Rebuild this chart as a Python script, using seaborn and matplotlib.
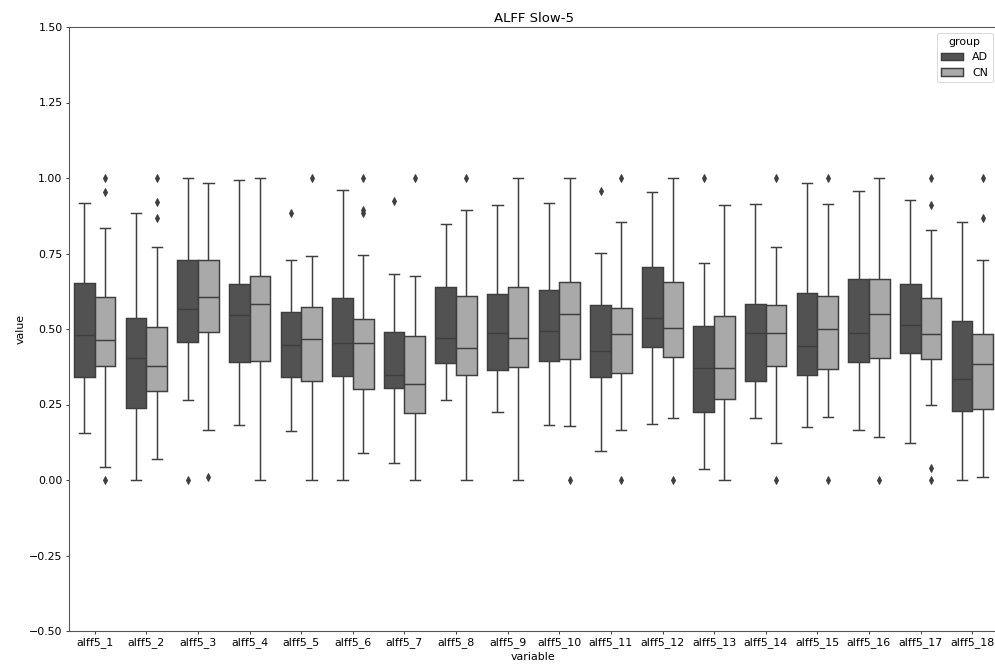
import matplotlib
matplotlib.use("Agg")
import matplotlib.pyplot as plt
import numpy as np
import pandas as pd
import seaborn as sns

variables = ["alff5_%d" % i for i in range(1, 19)]
groups = ["AD", "CN"]

# box summaries (whisker low, q1, median, q3, whisker high, fliers)
ad_lo = [.155, .0, .264, .183, .161, .0, .055, .264, .224, .183, .097, .187, .036, .204, .176, .165, .121, .0]
ad_q1 = [.340, .238, .458, .392, .340, .345, .303, .388, .363, .394, .340, .441, .224, .327, .348, .392, .421, .229]
ad_med = [.481, .404, .567, .547, .448, .455, .347, .471, .486, .493, .427, .535, .370, .488, .444, .488, .513, .334]
ad_q3 = [.653, .535, .727, .648, .556, .601, .491, .639, .615, .628, .579, .705, .510, .584, .620, .664, .648, .526]
ad_hi = [.917, .884, 1.0, .994, .730, .961, .681, .849, .912, .917, .752, .954, .719, .914, .983, .958, .928, .855]
ad_out = [[], [], [0.0], [], [.885], [], [.923], [], [], [], [.956], [], [1.0], [], [], [], [], []]

cn_lo = [.042, .069, .165, .0, .0, .091, .0, .0, .0, .180, .165, .205, .0, .121, .209, .143, .249, .009]
cn_q1 = [.378, .296, .491, .394, .328, .301, .221, .349, .374, .400, .355, .407, .268, .378, .367, .403, .400, .235]
cn_med = [.463, .379, .607, .584, .466, .453, .317, .436, .469, .551, .482, .502, .370, .488, .501, .551, .482, .383]
cn_q3 = [.607, .508, .730, .674, .574, .532, .477, .608, .639, .656, .568, .656, .543, .579, .609, .667, .601, .482]
cn_hi = [.833, .772, .983, 1.0, .741, .744, .675, .895, 1.0, 1.0, .855, 1.0, .912, .771, .914, 1.0, .829, .730]
cn_out = [[0.0, .952, 1.0], [.866, .920, 1.0], [.011], [], [1.0], [.884, .893, 1.0], [1.0], [1.0], [], [0.0],
          [0.0, 1.0], [0.0], [], [0.0, 1.0], [0.0, 1.0], [0.0], [0.0, .040, .912, 1.0], [.866, 1.0]]

summary = {
    "AD": (ad_lo, ad_q1, ad_med, ad_q3, ad_hi, ad_out),
    "CN": (cn_lo, cn_q1, cn_med, cn_q3, cn_hi, cn_out),
}

# expand each summary into sample points that give the same quartiles
rows = []
for g in groups:
    lo, q1, med, q3, hi, out = summary[g]
    for i, var in enumerate(variables):
        vals = [lo[i]] + [q1[i]] * 10 + [med[i]] * 10 + [q3[i]] * 10 + [hi[i]] + out[i]
        for v in vals:
            rows.append((var, v, g))
df = pd.DataFrame(rows, columns=["variable", "value", "group"])

plt.rcParams["font.size"] = 12

fig = plt.figure(figsize=(995 / 66, 665 / 66), dpi=66)
ax = fig.add_axes([69 / 995, 1 - 631 / 665, 929 / 995, 604 / 665])

line_col = "#3e3e3e"
sns.boxplot(data=df, x="variable", y="value", hue="group", ax=ax,
            palette={"AD": "#525252", "CN": "#a9a9a9"}, saturation=1,
            linecolor=line_col, linewidth=1.6,
            flierprops=dict(marker="d", markersize=6, markerfacecolor=line_col,
                            markeredgecolor=line_col))

ax.set_ylim(-0.5, 1.5)
ax.set_yticks(np.arange(-0.5, 1.51, 0.25))
ax.set_title("ALFF Slow-5")
for s in ax.spines.values():
    s.set_color("#555555")
    s.set_linewidth(1.2)
sns.move_legend(ax, "upper right", title="group")

fig.savefig("out.png", dpi=66)
